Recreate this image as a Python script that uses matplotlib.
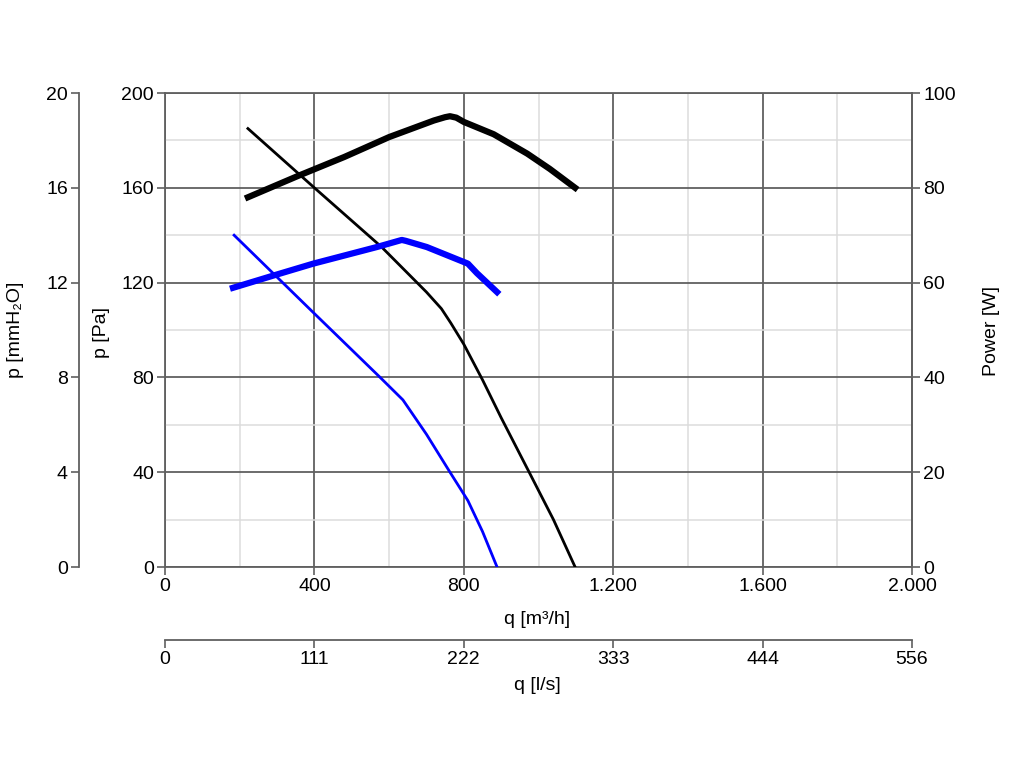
import matplotlib
matplotlib.use("Agg")
import matplotlib.pyplot as plt
import numpy as np

plt.rcParams['font.family'] = ['Liberation Sans', 'DejaVu Sans']

# pressure curves (q in m3/h, p in Pa)
q_p_high = [222, 400, 580, 700, 740, 765, 800, 850, 900, 975, 1040, 1098]
p_high = [185, 160, 135, 116, 109, 103, 94, 79, 63, 40, 20, 0]
q_p_low = [185, 393, 576, 637, 700, 763, 811, 850, 889]
p_low = [140, 108, 80, 70.5, 56, 40, 28, 15, 0]

# power curves (q in m3/h, power in W)
q_w_high = [222, 356, 480, 600, 720, 750, 763, 780, 800, 880, 970, 1030, 1098]
w_high = [78, 82.5, 86.5, 90.7, 94.2, 94.9, 95.1, 94.8, 93.9, 91.3, 87.2, 84, 80]
q_w_low = [182, 295, 397, 567, 625, 634, 645, 701, 811, 835, 889]
w_low = [58.9, 61.6, 64, 67.5, 68.8, 69, 68.8, 67.5, 64, 62, 58]

q_ticks = [0, 400, 800, 1200, 1600, 2000]
q_ticklabels = ['0', '400', '800', '1.200', '1.600', '2.000']
ls_ticklabels = ['0', '111', '222', '333', '444', '556']
pa_ticks = [0, 40, 80, 120, 160, 200]
mm_ticks = [0, 4, 8, 12, 16, 20]
w_ticks = [0, 20, 40, 60, 80, 100]

axis_col = '#606060'
fs = 14
W, H = 1024, 768

fig = plt.figure(figsize=(W/100, H/100), dpi=100)
ax = fig.add_axes([165/W, 1-567/H, 747/W, 474/H])

ax.set_xlim(0, 2000)
ax.set_ylim(0, 200)
ax.set_xticks(q_ticks)
ax.set_xticklabels(q_ticklabels)
ax.set_xticks(np.arange(200, 2000, 400), minor=True)
ax.set_yticks(pa_ticks)
ax.set_yticks(np.arange(20, 200, 40), minor=True)
ax.grid(which='major', color=axis_col, linewidth=1.3)
ax.grid(which='minor', color='#dcdcdc', linewidth=1.1)
ax.tick_params(which='major', length=6, color=axis_col, labelsize=fs, width=1.2, pad=2)
ax.tick_params(which='minor', length=0)
for s in ax.spines.values():
    s.set_color(axis_col)
    s.set_linewidth(1.3)
ax.set_axisbelow(True)

ax.plot(q_p_high, p_high, color='black', linewidth=2.0, zorder=3)
ax.plot(q_p_low, p_low, color='#0000ff', linewidth=2.0, zorder=3)

# power axis on the right
axw = ax.twinx()
axw.set_ylim(0, 100)
axw.set_yticks(w_ticks)
axw.tick_params(length=6, color=axis_col, labelsize=fs, width=1.2, pad=2)
for s in axw.spines.values():
    s.set_visible(False)
axw.spines['right'].set_visible(True)
axw.spines['right'].set_color(axis_col)
axw.spines['right'].set_linewidth(1.3)
axw.plot(q_w_high, w_high, color='black', linewidth=4.5, solid_joinstyle='round', zorder=3)
axw.plot(q_w_low, w_low, color='#0000ff', linewidth=4.5, solid_joinstyle='round', zorder=3)

# mmH2O axis on the far left
axm = ax.twinx()
axm.set_ylim(0, 20)
axm.set_yticks(mm_ticks)
for s in axm.spines.values():
    s.set_visible(False)
axm.spines['left'].set_visible(True)
axm.spines['left'].set_position(('outward', 62))
axm.spines['left'].set_color(axis_col)
axm.spines['left'].set_linewidth(1.3)
axm.yaxis.set_ticks_position('left')
axm.tick_params(length=6, color=axis_col, labelsize=fs, width=1.2, pad=2)

# l/s axis below
axl = ax.twiny()
axl.set_xlim(0, 2000)
axl.set_xticks(q_ticks)
axl.set_xticklabels(ls_ticklabels)
for s in axl.spines.values():
    s.set_visible(False)
axl.spines['bottom'].set_visible(True)
axl.spines['bottom'].set_position(('outward', 52.5))
axl.spines['bottom'].set_color(axis_col)
axl.spines['bottom'].set_linewidth(1.3)
axl.xaxis.set_ticks_position('bottom')
axl.tick_params(length=6, color=axis_col, labelsize=fs, width=1.2, pad=2)

# axis titles
fig.text(15.5/W, 1-330/H, 'p [mmH₂O]', rotation=90, ha='center', va='center', fontsize=fs)
fig.text(101.5/W, 1-333/H, 'p [Pa]', rotation=90, ha='center', va='center', fontsize=fs)
fig.text(991/W, 1-331/H, 'Power [W]', rotation=90, ha='center', va='center', fontsize=fs)
fig.text(537/W, 1-620/H, 'q [m³/h]', ha='center', va='center', fontsize=fs)
fig.text(537/W, 1-686/H, 'q [l/s]', ha='center', va='center', fontsize=fs)

fig.savefig('out.png', dpi=100)
